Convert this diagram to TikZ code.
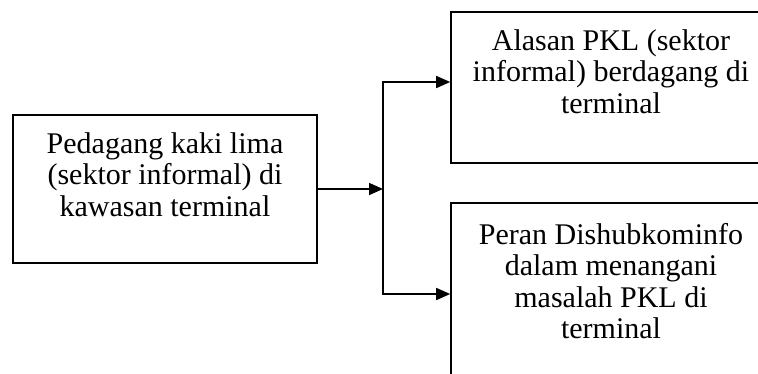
\documentclass[tikz,border=0pt]{standalone}
\usepackage{fontspec}
\setmainfont{Liberation Serif}
\usetikzlibrary{arrows.meta, positioning, calc}

\begin{document}
\begin{tikzpicture}[x=1pt, y=-1pt,
  kotak/.style={draw, rectangle, line width=1.6pt, inner sep=0pt},
  teks/.style={align=center, inner sep=0pt, anchor=north, font=\fontsize{30}{31.5}\selectfont},
  panah/.style={line width=1.6pt, -{Triangle[length=14pt, width=12pt]}}]
  \useasboundingbox (0,0) rectangle (758,373);
  \begin{scope}
  \clip (0,0) rectangle (758,373);
  % Boxes
  \node[kotak, minimum width=304pt, minimum height=148pt] (pkl) at (165,189) {};
  \node[kotak, minimum width=320pt, minimum height=151pt] (alasan) at (611,87.5) {};
  \node[kotak, minimum width=320pt, minimum height=190pt] (peran) at (611,298) {};
  % Texts
  \node[teks] (pkl-teks) at ([yshift=-18pt]pkl.north) {Pedagang kaki lima\\(sektor informal) di\\kawasan terminal};
  \node[teks] (alasan-teks) at ([yshift=-18pt]alasan.north) {Alasan PKL (sektor\\informal) berdagang di\\terminal};
  \node[teks] (peran-teks) at ([yshift=-20.5pt]peran.north) {Peran Dishubkominfo\\dalam menangani\\masalah PKL di\\terminal};
  % Connectors
  \coordinate (cabang) at (383,189);
  \coordinate (atas) at (383,82);
  \coordinate (bawah) at (383,294);
  \draw[panah] (pkl.east) -- (cabang);
  \draw[line width=1.6pt, {Triangle[length=14pt, width=12pt]}-{Triangle[length=14pt, width=12pt]}]
    (atas -| alasan.west) -- (atas) -- (bawah) -- (bawah -| peran.west);
  \end{scope}
\end{tikzpicture}
\end{document}
